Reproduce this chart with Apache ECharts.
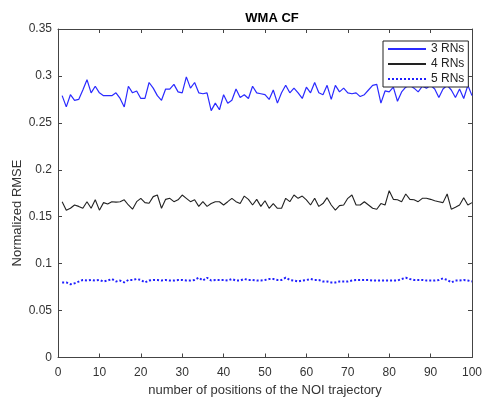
<!DOCTYPE html>
<html>
<head>
<meta charset="utf-8">
<script src="https://cdn.jsdelivr.net/npm/echarts@6/dist/echarts.min.js"></script>
<style>html,body{margin:0;padding:0;background:#fff}#c{width:485px;height:402px}</style>
</head>
<body>
<div id="c"></div>
<script>
var positions = [];
for (var i = 1; i <= 100; i++) positions.push(i);

var rn3 = [0.279,0.267,0.280,0.274,0.275,0.285,0.296,0.282,0.289,0.282,
0.279,0.279,0.279,0.282,0.276,0.267,0.289,0.282,0.284,0.276,
0.276,0.293,0.287,0.279,0.274,0.286,0.286,0.291,0.283,0.282,
0.299,0.287,0.293,0.282,0.281,0.282,0.263,0.271,0.264,0.280,
0.271,0.274,0.286,0.277,0.280,0.276,0.289,0.282,0.281,0.280,
0.275,0.285,0.271,0.282,0.290,0.282,0.287,0.282,0.276,0.288,
0.282,0.293,0.282,0.280,0.290,0.275,0.290,0.283,0.287,0.282,
0.281,0.282,0.278,0.280,0.285,0.290,0.291,0.271,0.284,0.283,
0.288,0.273,0.283,0.288,0.290,0.287,0.283,0.289,0.287,0.290,
0.286,0.277,0.286,0.290,0.285,0.277,0.286,0.276,0.290,0.279];

var rn4 = [0.166,0.157,0.159,0.1625,0.161,0.159,0.166,0.159,0.168,0.157,
0.165,0.1636,0.166,0.1655,0.166,0.168,0.1625,0.158,0.166,0.1696,
0.165,0.1643,0.1714,0.1731,0.159,0.1685,0.1696,0.166,0.168,0.1731,
0.1696,0.166,0.168,0.161,0.166,0.161,0.164,0.166,0.166,0.1625,
0.166,0.1696,0.166,0.164,0.172,0.1685,0.1625,0.1685,0.161,0.167,
0.159,0.164,0.159,0.159,0.1696,0.166,0.1731,0.1696,0.172,0.168,
0.1625,0.1696,0.161,0.164,0.1703,0.1625,0.157,0.1618,0.1625,0.1696,
0.1731,0.1625,0.1625,0.166,0.1625,0.159,0.158,0.164,0.1625,0.1777,
0.1685,0.168,0.166,0.1742,0.1685,0.168,0.166,0.1696,0.1696,0.1685,
0.167,0.166,0.165,0.1742,0.158,0.160,0.1625,0.1703,0.1625,0.165];

var rn5 = [0.080,0.080,0.078,0.079,0.0808,0.0826,0.082,0.0826,0.082,0.0826,
0.081,0.082,0.0836,0.081,0.082,0.080,0.0826,0.0826,0.0836,0.0826,
0.080,0.082,0.0826,0.0826,0.082,0.0826,0.082,0.082,0.0826,0.0826,
0.082,0.082,0.0826,0.085,0.082,0.085,0.082,0.0826,0.0826,0.0826,
0.082,0.0836,0.082,0.082,0.0836,0.0826,0.0826,0.082,0.082,0.0826,
0.0836,0.0836,0.0826,0.0826,0.085,0.0826,0.082,0.081,0.082,0.0826,
0.0836,0.0826,0.0826,0.081,0.081,0.080,0.080,0.081,0.081,0.081,
0.082,0.0826,0.0826,0.0826,0.0826,0.082,0.082,0.082,0.082,0.082,
0.082,0.082,0.0836,0.085,0.0836,0.0826,0.0826,0.0826,0.082,0.082,
0.082,0.0826,0.0843,0.0826,0.080,0.082,0.082,0.0826,0.082,0.081];

var seriesNames = ['3 RNs', '4 RNs', '5 RNs'];
var xTicks = [0,10,20,30,40,50,60,70,80,90,100];
var yTicks = [0,0.05,0.1,0.15,0.2,0.25,0.3,0.35];

function pairs(arr) { return arr.map(function (v, i) { return [positions[i], v]; }); }

var FONT = 'Liberation Sans, Arial, Helvetica, sans-serif';
var axisCol = '#444';
var textCol = '#333';

var chart = echarts.init(document.getElementById('c'), null, {renderer: 'canvas'});
chart.setOption({
  animation: false,
  backgroundColor: '#fff',
  title: {
    text: 'WMA CF', left: 267, top: 7, textAlign: 'center',
    textStyle: {fontFamily: FONT, fontSize: 13, fontWeight: 'bold', color: '#000'}
  },
  grid: {left: 58, right: 9, top: 29, bottom: 44.5, containLabel: false},
  legend: {
    orient: 'vertical', left: 383, top: 41,
    data: seriesNames,
    itemWidth: 38, itemHeight: 13, itemGap: 3,
    padding: [2, 4, 2, 4],
    itemStyle: {opacity: 0},
    backgroundColor: '#fff', borderColor: '#222', borderWidth: 1,
    textStyle: {fontFamily: FONT, fontSize: 12, color: '#222', padding: [0, 0, 0, 0]},
    z: 10
  },
  xAxis: [{
    type: 'value', min: 0, max: 100, interval: 10,
    name: 'number of positions of the NOI trajectory',
    nameLocation: 'middle', nameGap: 26,
    nameTextStyle: {fontFamily: FONT, fontSize: 13, color: textCol},
    axisLine: {show: true, onZero: false, lineStyle: {color: axisCol, width: 1}},
    axisTick: {show: true, inside: true, length: 4, lineStyle: {color: axisCol}},
    axisLabel: {
      margin: 9, fontFamily: FONT, fontSize: 12, color: textCol,
      customValues: xTicks
    },
    splitLine: {show: false}
  }, {
    type: 'value', min: 0, max: 100, interval: 10, position: 'top',
    axisLine: {show: true, onZero: false, lineStyle: {color: axisCol, width: 1}},
    axisTick: {show: true, inside: true, length: 4, lineStyle: {color: axisCol}},
    axisLabel: {show: false}, splitLine: {show: false}
  }],
  yAxis: [{
    type: 'value', min: 0, max: 0.35, interval: 0.05,
    axisLine: {show: true, onZero: false, lineStyle: {color: axisCol, width: 1}},
    axisTick: {show: true, inside: true, length: 4, lineStyle: {color: axisCol}},
    axisLabel: {
      margin: 6, fontFamily: FONT, fontSize: 12, color: textCol,
      customValues: yTicks,
      formatter: function (v) { return String(Math.round(v * 100) / 100); }
    },
    splitLine: {show: false}
  }, {
    type: 'value', min: 0, max: 0.35, interval: 0.05, position: 'right',
    axisLine: {show: true, onZero: false, lineStyle: {color: axisCol, width: 1}},
    axisTick: {show: true, inside: true, length: 4, lineStyle: {color: axisCol}},
    axisLabel: {show: false}, splitLine: {show: false}
  }],
  graphic: [{
    type: 'text', x: 17, y: 213, rotation: Math.PI / 2,
    style: {
      text: 'Normalized RMSE', fontFamily: FONT, fontSize: 13, fill: textCol,
      align: 'center', verticalAlign: 'middle'
    }
  }],
  series: [{
    name: seriesNames[0], type: 'line', data: pairs(rn3), symbol: 'none',
    xAxisIndex: 0, yAxisIndex: 0,
    lineStyle: {color: '#2a2aff', width: 1.2}, itemStyle: {color: '#2a2aff'}
  }, {
    name: seriesNames[1], type: 'line', data: pairs(rn4), symbol: 'none',
    xAxisIndex: 0, yAxisIndex: 0,
    lineStyle: {color: '#222', width: 1.1}, itemStyle: {color: '#222'}
  }, {
    name: seriesNames[2], type: 'line', data: pairs(rn5), symbol: 'none',
    xAxisIndex: 0, yAxisIndex: 0,
    lineStyle: {color: '#1f1fff', width: 2, type: [2, 2]}, itemStyle: {color: '#1f1fff'}
  }]
});
</script>
</body>
</html>
